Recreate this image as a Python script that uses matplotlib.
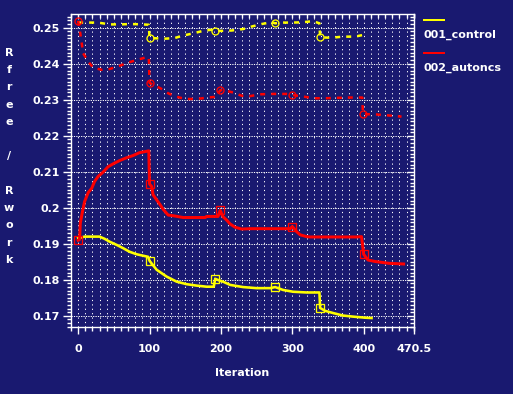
#Rfree / Rwork plot for two refinement runs, loggraph look

import numpy as np
import matplotlib
matplotlib.use("Agg")
import matplotlib.pyplot as plt
from matplotlib.ticker import MultipleLocator, FuncFormatter, FixedLocator, NullFormatter

#Data
run_names = ["001_control", "002_autoncs"]

control_rwork_x = [0, 5, 9, 30, 37, 44, 54, 63, 72, 82, 91, 98, 100, 110, 124, 138, 152, 166, 180, 190,
                   192, 198, 203, 213, 231, 250, 269, 276, 287, 301, 320, 338, 339, 346, 357, 371, 385, 402, 411]
control_rwork_y = [0.1916, 0.1918, 0.1920, 0.1920, 0.1914, 0.1906, 0.1897, 0.1888, 0.1878, 0.1871, 0.1867,
                   0.1864, 0.1853, 0.1828, 0.1809, 0.1795, 0.1788, 0.1784, 0.1781, 0.1781, 0.1803, 0.1798,
                   0.1795, 0.1786, 0.1780, 0.1777, 0.1777, 0.1780, 0.1772, 0.1767, 0.1765, 0.1765, 0.1722,
                   0.1714, 0.1708, 0.1701, 0.1698, 0.1695, 0.1694]
control_rwork_mark_x = [100, 192, 276, 339]
control_rwork_mark_y = [0.1853, 0.1803, 0.1780, 0.1722]

control_rfree_x = [0, 12, 28, 44, 60, 74, 90, 99, 100, 105, 119, 135, 147, 161, 175, 186, 192, 201, 215, 231,
                   243, 257, 271, 276, 285, 301, 315, 329, 338, 339, 355, 371, 388, 402]
control_rfree_y = [0.2514, 0.2514, 0.2514, 0.2509, 0.2509, 0.2510, 0.2509, 0.2508, 0.2471, 0.2471, 0.2469,
                   0.2471, 0.2478, 0.2484, 0.2491, 0.2494, 0.2491, 0.2491, 0.2492, 0.2496, 0.2503, 0.2510,
                   0.2515, 0.2512, 0.2514, 0.2514, 0.2515, 0.2518, 0.2512, 0.2473, 0.2472, 0.2475, 0.2475, 0.2481]
control_rfree_mark_x = [100, 192, 276, 339]
control_rfree_mark_y = [0.2471, 0.2491, 0.2512, 0.2473]

autoncs_rwork_x = [0, 2, 3, 6, 9, 14, 19, 23, 28, 35, 42, 49, 58, 68, 77, 86, 99, 100, 103, 105, 110, 115,
                   119, 126, 133, 147, 178, 180, 196, 199, 203, 208, 213, 220, 229, 241, 297, 300, 306, 311,
                   320, 325, 390, 397, 400, 406, 416, 435, 456]
autoncs_rwork_y = [0.1910, 0.1912, 0.1957, 0.1989, 0.2017, 0.2042, 0.2054, 0.2073, 0.2087, 0.2099, 0.2114,
                   0.2122, 0.2131, 0.2139, 0.2145, 0.2153, 0.2158, 0.2066, 0.2059, 0.2036, 0.2022, 0.2008,
                   0.1996, 0.1980, 0.1978, 0.1973, 0.1973, 0.1976, 0.1976, 0.1993, 0.1975, 0.1966, 0.1955,
                   0.1946, 0.1941, 0.1942, 0.1942, 0.1948, 0.1934, 0.1925, 0.1920, 0.1919, 0.1919, 0.1920,
                   0.1871, 0.1855, 0.1851, 0.1846, 0.1844]
autoncs_rwork_mark_x = [0, 100, 199, 300, 400]
autoncs_rwork_mark_y = [0.1910, 0.2066, 0.1993, 0.1948, 0.1871]

autoncs_rfree_x = [0, 3, 5, 7, 14, 21, 33, 44, 58, 70, 82, 94, 99, 100, 105, 115, 126, 136, 150, 166, 182,
                   193, 199, 203, 217, 229, 241, 255, 273, 292, 300, 315, 329, 345, 362, 381, 398, 399, 418,
                   437, 453]
autoncs_rfree_y = [0.2519, 0.2484, 0.2457, 0.2429, 0.2406, 0.2389, 0.2383, 0.2385, 0.2394, 0.2403, 0.2410,
                   0.2417, 0.2418, 0.2347, 0.2341, 0.2332, 0.2318, 0.2309, 0.2302, 0.2302, 0.2306, 0.2308,
                   0.2326, 0.2327, 0.2320, 0.2311, 0.2310, 0.2315, 0.2316, 0.2316, 0.2313, 0.2309, 0.2304,
                   0.2304, 0.2305, 0.2306, 0.2306, 0.2260, 0.2259, 0.2256, 0.2253]
autoncs_rfree_mark_x = [0, 100, 199, 300, 399]
autoncs_rfree_mark_y = [0.2519, 0.2347, 0.2326, 0.2313, 0.2260]

x_ticks = [0, 100, 200, 300, 400, 470.5]
y_ticks = [0.17, 0.18, 0.19, 0.2, 0.21, 0.22, 0.23, 0.24, 0.25]

#Look
bg = "#191970"
fg = "white"
yellow = "#ffff00"
red = "#ff0000"
plt.rcParams['font.family'] = ['DejaVu Sans']
plt.rcParams['font.weight'] = 'bold'

W, H = 513, 394
fig = plt.figure(figsize=(W / 100, H / 100), dpi=100, facecolor=bg)
ax = fig.add_axes([71 / W, 1 - 326.7 / H, (414 - 71) / W, (326.7 - 14.3) / H], facecolor=bg)

px = 0.72  #one pixel in points

#grid: vertical every 10, horizontal every 0.01
for gx in np.arange(-10, 471, 10):
    ax.axvline(gx, color=fg, lw=px, ls=(0, (1.2, 3.2)), zorder=1)
for gy in y_ticks:
    ax.axhline(gy, color=fg, lw=px, ls=(0, (1.2, 1.2)), zorder=1)

#control run
ax.plot(control_rfree_x, control_rfree_y, color=yellow, lw=2.5 * px, ls=(0, (2, 2.4)), zorder=3)
ax.plot(control_rwork_x, control_rwork_y, color=yellow, lw=2.6 * px, zorder=3)
ax.plot(control_rfree_mark_x, control_rfree_mark_y, ls='none', marker='o', ms=7 * px,
        mfc='none', mec=yellow, mew=1.3 * px, zorder=4)
ax.plot(control_rwork_mark_x, control_rwork_mark_y, ls='none', marker='s', ms=8 * px,
        mfc='none', mec=yellow, mew=1.3 * px, zorder=4)

#autoncs run
ax.plot(autoncs_rfree_x, autoncs_rfree_y, color=red, lw=2.5 * px, ls=(0, (2, 2.4)), zorder=3)
ax.plot(autoncs_rwork_x, autoncs_rwork_y, color=red, lw=3 * px, zorder=3)
ax.plot(autoncs_rfree_mark_x, autoncs_rfree_mark_y, ls='none', marker='o', ms=7 * px,
        mfc='none', mec=red, mew=1.3 * px, zorder=4)
ax.plot(autoncs_rwork_mark_x, autoncs_rwork_mark_y, ls='none', marker='s', ms=8 * px,
        mfc='none', mec=red, mew=1.3 * px, zorder=4)

ax.set_xlim(-10, 470.5)
ax.set_ylim(0.167, 0.2537)

#axes and ticks: out on bottom/left, in on top/right
for s in ax.spines.values():
    s.set_color(fg)
    s.set_linewidth(1.4 * px)
ax.xaxis.set_major_locator(FixedLocator(x_ticks))
ax.xaxis.set_minor_locator(MultipleLocator(10))
ax.yaxis.set_major_locator(FixedLocator(y_ticks))
ax.yaxis.set_minor_locator(MultipleLocator(0.001))
ax.xaxis.set_major_formatter(FuncFormatter(lambda v, p: "%g" % v))
ax.yaxis.set_major_formatter(FuncFormatter(lambda v, p: "%g" % round(v, 3)))
ax.tick_params(axis='both', which='both', colors=fg, width=1.4 * px, labelsize=8, direction='out')
ax.tick_params(axis='x', which='major', length=7 * px, pad=10 * px)
ax.tick_params(axis='x', which='minor', length=4 * px)
ax.tick_params(axis='y', which='major', length=8 * px, pad=3 * px)
ax.tick_params(axis='y', which='minor', length=4 * px)
for lab in ax.get_xticklabels() + ax.get_yticklabels():
    lab.set_fontweight('bold')

top = ax.secondary_xaxis('top')
top.xaxis.set_major_locator(FixedLocator(x_ticks))
top.xaxis.set_minor_locator(MultipleLocator(10))
top.xaxis.set_major_formatter(NullFormatter())
top.tick_params(which='both', direction='in', colors=fg, width=1.4 * px, length=4 * px)
top.spines['top'].set_visible(False)

right = ax.secondary_yaxis('right')
right.yaxis.set_major_locator(FixedLocator(y_ticks))
right.yaxis.set_minor_locator(MultipleLocator(0.001))
right.yaxis.set_major_formatter(NullFormatter())
right.tick_params(which='major', direction='in', colors=fg, width=1.4 * px, length=7 * px)
right.tick_params(which='minor', direction='in', colors=fg, width=1.4 * px, length=4 * px)
right.spines['right'].set_visible(False)

#axis titles
fig.text(242.5 / W, 1 - 373 / H, "Iteration", color=fg, fontsize=8, fontweight='bold',
         ha='center', va='center')
ylab = "Rfree / Rwork"
for i, ch in enumerate(ylab):
    if ch != " ":
        fig.text(9 / W, 1 - (53 + i * 17.25) / H, ch, color=fg, fontsize=8, fontweight='bold',
                 ha='center', va='center')

#legend on the right
leg_colors = [yellow, red]
for i, name in enumerate(run_names):
    yl = 20 + i * 33
    fig.add_artist(plt.Line2D([424 / W, 444 / W], [1 - yl / H, 1 - yl / H], color=leg_colors[i],
                              lw=2 * px, transform=fig.transFigure))
    fig.text(424 / W, 1 - (yl + 15) / H, name, color=fg, fontsize=8, fontweight='bold',
             ha='left', va='center')

fig.savefig("out.png", dpi=100, facecolor=bg)
